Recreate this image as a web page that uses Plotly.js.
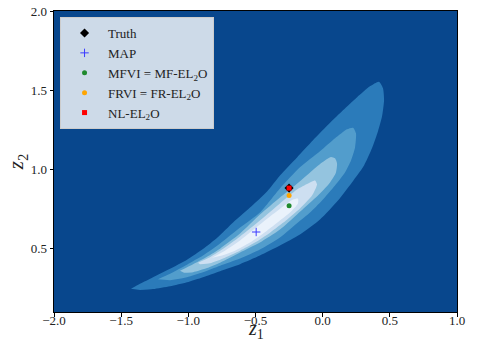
<!DOCTYPE html>
<html>
<head>
<meta charset="utf-8">
<script src="https://cdn.plot.ly/plotly-3.0.1.min.js"></script>
<style>
  html, body { margin: 0; padding: 0; background: #fff; }
  #chart { width: 491px; height: 344px; }
</style>
</head>
<body>
<div id="chart"></div>
<script>
// contour bands (outer -> inner), z1 / z2 coordinates
let band1_z1 = [-1.427, -1.36, -1.263, -1.136, -1.01, -0.891, -0.779, -0.667, -0.541, -0.414, -0.318, -0.191, -0.072, 0.055, 0.151, 0.256, 0.352, 0.419,
                0.449, 0.457, 0.442, 0.412, 0.367, 0.308, 0.218, 0.114, -0.02, -0.169, -0.318, -0.467, -0.615, -0.764, -0.891, -1.01, -1.136, -1.263, -1.36];
let band1_z2 = [0.247, 0.278, 0.32, 0.373, 0.43, 0.497, 0.573, 0.665, 0.759, 0.861, 0.962, 1.076, 1.184, 1.294, 1.373, 1.456, 1.525, 1.554,
                1.513, 1.437, 1.335, 1.241, 1.133, 1.025, 0.918, 0.804, 0.684, 0.589, 0.519, 0.456, 0.402, 0.358, 0.32, 0.288, 0.263, 0.245, 0.239];

let band2_z1 = [-1.226, -1.136, -1.01, -0.891, -0.764, -0.615, -0.467, -0.318, -0.169, -0.02, 0.092, 0.181, 0.226,
                0.248, 0.241, 0.211, 0.166, 0.092, -0.005, -0.094, -0.184, -0.318, -0.467, -0.615, -0.764, -0.891, -1.01, -1.136];
let band2_z2 = [0.307, 0.342, 0.399, 0.456, 0.532, 0.633, 0.728, 0.88, 1.013, 1.114, 1.196, 1.253, 1.263,
                1.228, 1.139, 1.057, 0.981, 0.899, 0.804, 0.728, 0.665, 0.57, 0.494, 0.437, 0.392, 0.351, 0.32, 0.301];

let band3_z1 = [-1.062, -0.965, -0.861, -0.764, -0.615, -0.467, -0.318, -0.206, -0.094, -0.005, 0.062,
                0.092, 0.107, 0.099, 0.055, -0.02, -0.109, -0.199, -0.318, -0.467, -0.615, -0.764, -0.861, -0.965, -1.032];
let band3_z2 = [0.361, 0.402, 0.449, 0.5, 0.595, 0.715, 0.823, 0.899, 0.981, 1.044, 1.079,
                1.07, 1.038, 0.981, 0.918, 0.848, 0.778, 0.709, 0.62, 0.538, 0.475, 0.411, 0.377, 0.351, 0.348];

let band4_z1 = [-0.928, -0.839, -0.749, -0.615, -0.467, -0.318, -0.191, -0.109, -0.057,
                -0.042, -0.079, -0.169, -0.273, -0.392, -0.504, -0.615, -0.727, -0.839, -0.913];
let band4_z2 = [0.411, 0.446, 0.494, 0.576, 0.677, 0.785, 0.873, 0.911, 0.93,
                0.905, 0.835, 0.753, 0.677, 0.601, 0.538, 0.487, 0.443, 0.408, 0.402];

let band5_z1 = [-0.824, -0.727, -0.615, -0.496, -0.392, -0.295, -0.221, -0.184,
                -0.184, -0.243, -0.318, -0.422, -0.541, -0.653, -0.749];
let band5_z2 = [0.443, 0.487, 0.551, 0.633, 0.703, 0.766, 0.81, 0.816,
                0.785, 0.728, 0.677, 0.608, 0.538, 0.487, 0.456];

let bandColors = ['#2b7bba', '#529dcc', '#94c4df', '#cddff1', '#eaf2fb'];
let bgColor = '#08478d';

// point estimates
let names = ['Truth', 'MAP', 'MFVI = MF-EL<sub>2</sub>O', 'FRVI = FR-EL<sub>2</sub>O', 'NL-EL<sub>2</sub>O'];
let est_z1 = [-0.25, -0.495, -0.25, -0.25, -0.25];
let est_z2 = [0.882, 0.605, 0.77, 0.835, 0.882];
let colors = ['black', '#3b3bff', '#1f8a2e', '#ffa500', '#ff0000'];
let symbols = ['diamond', 'cross-thin-open', 'circle', 'circle', 'square'];
let sizes = [7, 6, 5, 5, 5];

let bandsX = [band1_z1, band2_z1, band3_z1, band4_z1, band5_z1];
let bandsY = [band1_z2, band2_z2, band3_z2, band4_z2, band5_z2];

let traces = [];
for (let i = 0; i < bandsX.length; i++) {
    traces.push({
        type: 'scatter', mode: 'lines',
        x: bandsX[i], y: bandsY[i],
        fill: 'toself', fillcolor: bandColors[i],
        line: {width: 0, shape: 'spline', smoothing: 0.6, color: bandColors[i]},
        hoverinfo: 'skip', showlegend: false
    });
}
for (let i = 0; i < names.length; i++) {
    traces.push({
        type: 'scatter', mode: 'markers',
        x: [est_z1[i]], y: [est_z2[i]],
        name: names[i],
        marker: {
            symbol: symbols[i], size: sizes[i], color: colors[i],
            line: {width: symbols[i] == 'cross-thin-open' ? 1 : 0, color: colors[i]}
        }
    });
}

let serif = 'Liberation Serif, DejaVu Serif, serif';

let layout = {
    width: 491, height: 344,
    margin: {l: 54, r: 34, t: 11, b: 32},
    paper_bgcolor: 'white',
    plot_bgcolor: bgColor,
    font: {family: serif, size: 13, color: '#222'},
    xaxis: {
        range: [-2.0, 1.0], tickvals: [-2, -1.5, -1, -0.5, 0, 0.5, 1], tickformat: '.1f',
        showgrid: false, zeroline: false, showline: true, mirror: true, linecolor: 'black', linewidth: 1,
        ticks: 'outside', ticklen: 3.5, tickcolor: 'black', ticklabelstandoff: -7
    },
    yaxis: {
        range: [0.1, 2.0], tickvals: [0.5, 1.0, 1.5, 2.0], tickformat: '.1f',
        showgrid: false, zeroline: false, showline: true, mirror: true, linecolor: 'black', linewidth: 1,
        ticks: 'outside', ticklen: 3.5, tickcolor: 'black',
        title: {text: '<i>z</i><sub>2</sub>', font: {family: serif, size: 21, color: '#222'}, standoff: 0}
    },
    // x axis label as an annotation so it can sit tight under the tick labels
    annotations: [{
        text: '<i>z</i><sub>1</sub>', xref: 'paper', yref: 'paper', x: 0.5, y: -0.104,
        xanchor: 'center', yanchor: 'bottom', showarrow: false, borderpad: 0,
        font: {family: serif, size: 20, color: '#222'}
    }],
    legend: {
        x: 0.015, y: 0.98, xanchor: 'left', yanchor: 'top',
        bgcolor: 'rgba(255,255,255,0.8)', bordercolor: '#cccccc', borderwidth: 1,
        font: {family: serif, size: 13, color: '#222'},
        itemwidth: 37, tracegroupgap: 0
    },
    showlegend: true
};

Plotly.newPlot('chart', traces, layout, {displayModeBar: false, staticPlot: true});
</script>
</body>
</html>
